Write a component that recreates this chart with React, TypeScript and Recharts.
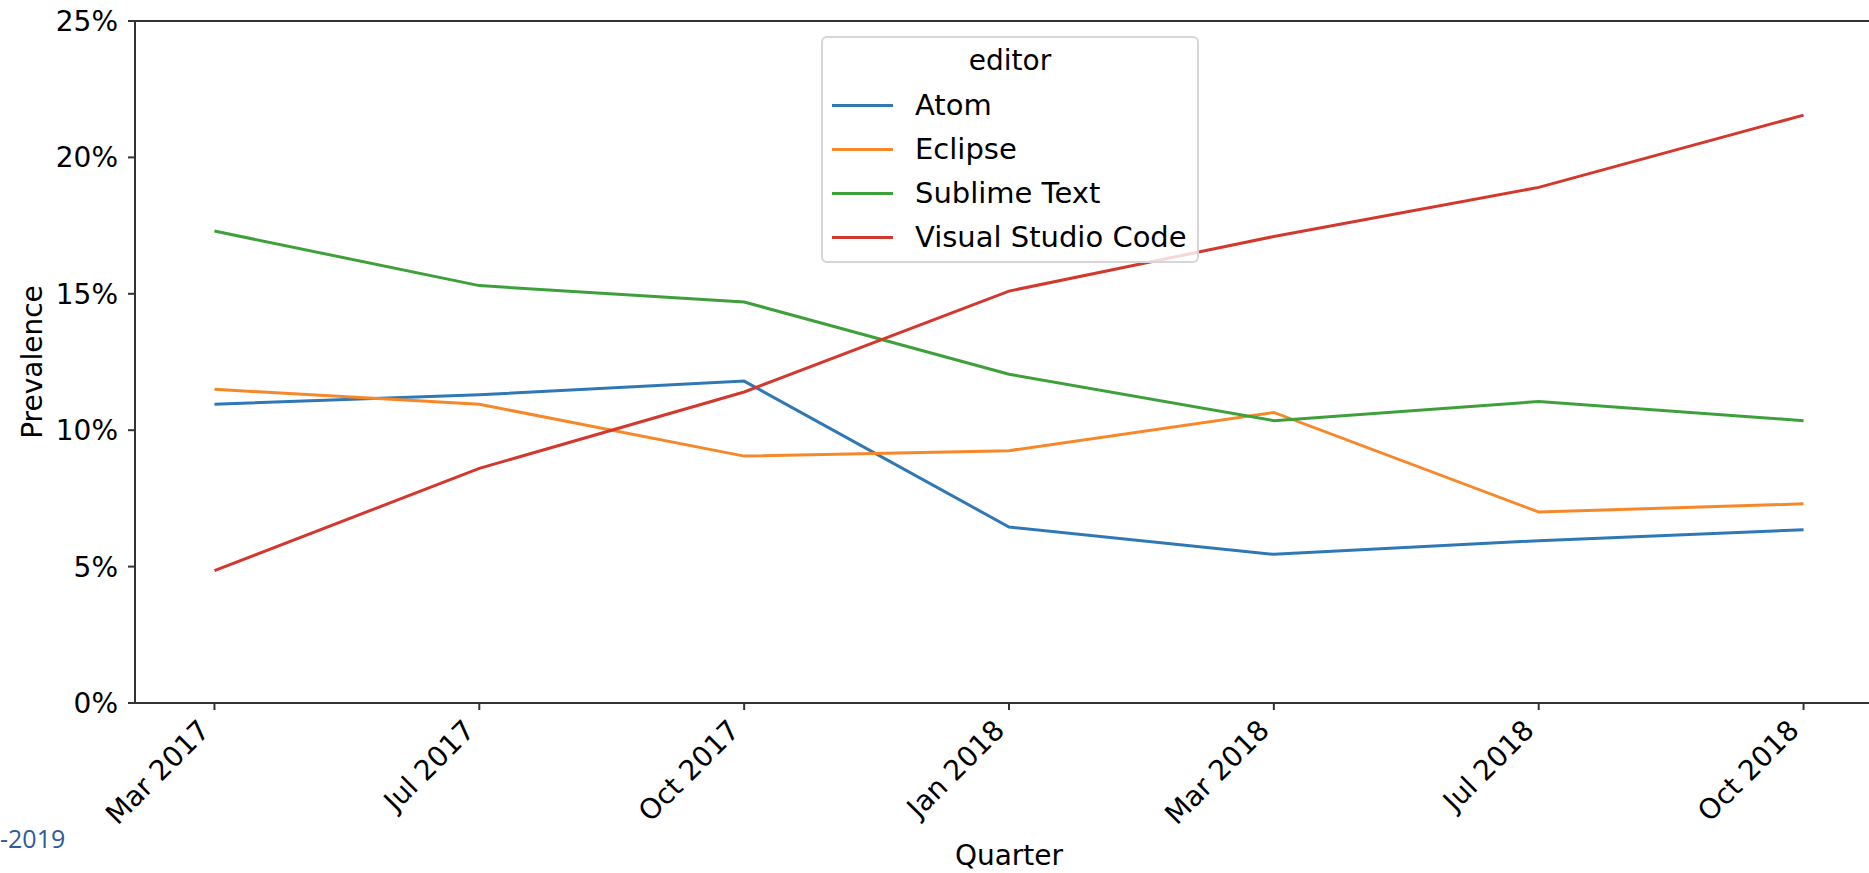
import React from 'react';
import {
  LineChart, Line, XAxis, YAxis, Legend, Label, ReferenceLine,
} from 'recharts';

const quarters = ['Mar 2017', 'Jul 2017', 'Oct 2017', 'Jan 2018', 'Mar 2018', 'Jul 2018', 'Oct 2018'];

const atom = [10.95, 11.3, 11.8, 6.45, 5.45, 5.95, 6.35];
const eclipse = [11.5, 10.95, 9.05, 9.25, 10.65, 7.0, 7.3];
const sublime = [17.3, 15.3, 14.7, 12.05, 10.35, 11.05, 10.35];
const vscode = [4.85, 8.6, 11.4, 15.1, 17.1, 18.9, 21.55];

const yTicks = [0, 5, 10, 15, 20, 25];

const seriesList = [
  { key: 'atom', name: 'Atom', color: '#2f78b6', values: atom },
  { key: 'eclipse', name: 'Eclipse', color: '#f7882a', values: eclipse },
  { key: 'sublime', name: 'Sublime Text', color: '#3ea03a', values: sublime },
  { key: 'vscode', name: 'Visual Studio Code', color: '#d3382d', values: vscode },
];

const data = quarters.map((q, i) => {
  const row: Record<string, number | string> = { i, quarter: q };
  for (const s of seriesList) row[s.key] = s.values[i];
  return row;
});

const FONT = '"DejaVu Sans", sans-serif';

function XTick(props: any) {
  const { x, y, payload } = props;
  const ex = x - 3;
  const ey = y + 22;
  return (
    <text
      x={ex}
      y={ey}
      textAnchor="end"
      transform={`rotate(-45, ${ex}, ${ey})`}
      fontSize={28}
      fontFamily={FONT}
      fill="#000"
    >
      {quarters[payload.value]}
    </text>
  );
}

function EditorLegend() {
  return (
    <div
      style={{
        width: 378,
        height: 227,
        boxSizing: 'border-box',
        border: '2px solid #d6d6d6',
        borderRadius: 6,
        background: 'rgba(255,255,255,0.8)',
        paddingTop: 1,
        fontFamily: FONT,
        fontSize: 29,
        color: '#000',
      }}
    >
      <div style={{ height: 44, lineHeight: '44px', textAlign: 'center', fontSize: 28 }}>editor</div>
      {seriesList.map((s) => (
        <div key={s.key} style={{ height: 44, display: 'flex', alignItems: 'center' }}>
          <div style={{ marginLeft: 9, width: 61, height: 3, background: s.color }} />
          <span style={{ marginLeft: 22, whiteSpace: 'nowrap' }}>{s.name}</span>
        </div>
      ))}
    </div>
  );
}

export default function App() {
  return (
    <div
      style={{
        position: 'fixed', left: 0, top: 0, width: 1869, height: 873,
        overflow: 'hidden', background: '#fff',
      }}
    >
      <LineChart
        width={1900}
        height={873}
        data={data}
        margin={{ top: 21, right: 17, bottom: 0, left: 0 }}
      >
        <XAxis
          dataKey="i"
          type="number"
          domain={[-0.3, 6.3]}
          ticks={quarters.map((_, i) => i)}
          allowDecimals={false}
          height={170}
          tick={<XTick />}
          tickSize={7}
          tickMargin={0}
          stroke="#333"
          strokeWidth={2}
          tickLine={{ stroke: '#333', strokeWidth: 2 }}
          axisLine={{ stroke: '#333', strokeWidth: 2 }}
        >
          <Label
            value="Quarter"
            position="insideBottom"
            offset={8}
            style={{ fontSize: 28, fontFamily: FONT, fill: '#000' }}
          />
        </XAxis>
        <YAxis
          domain={[0, 25]}
          ticks={yTicks}
          width={135}
          tickFormatter={(v: number) => `${v}%`}
          tick={{ fontSize: 28, fontFamily: FONT, fill: '#000' }}
          tickSize={7}
          tickMargin={10}
          tickLine={{ stroke: '#333', strokeWidth: 2 }}
          axisLine={{ stroke: '#333', strokeWidth: 2 }}
        >
          <Label
            value="Prevalence"
            angle={-90}
            position="insideLeft"
            offset={32}
            style={{ fontSize: 28, fontFamily: FONT, fill: '#000', textAnchor: 'middle' }}
          />
        </YAxis>
        <ReferenceLine y={25} stroke="#333" strokeWidth={2} />
        {seriesList.map((s) => (
          <Line
            key={s.key}
            type="linear"
            dataKey={s.key}
            name={s.name}
            stroke={s.color}
            strokeWidth={3}
            dot={false}
            activeDot={false}
            isAnimationActive={false}
          />
        ))}
        <Legend
          layout="vertical"
          align="center"
          verticalAlign="middle"
          content={<EditorLegend />}
          wrapperStyle={{ position: 'absolute', left: 821, top: 36, width: 378 }}
        />
      </LineChart>
      <div
        style={{
          position: 'absolute', left: 0, top: 824, fontFamily: '"Open Sans", sans-serif',
          fontSize: 25, lineHeight: '28px', color: '#2e5b9a',
        }}
      >
        -2019
      </div>
    </div>
  );
}
